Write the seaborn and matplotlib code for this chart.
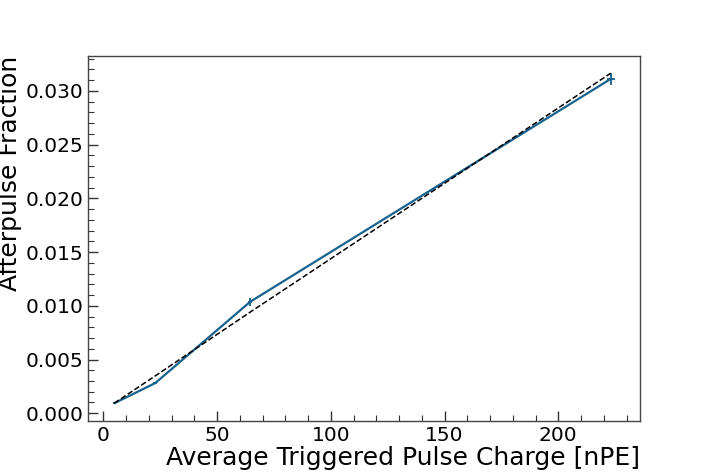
import matplotlib
matplotlib.use("Agg")
import matplotlib.pyplot as plt
import seaborn as sns
import pandas as pd
from matplotlib.ticker import MultipleLocator, FormatStrFormatter

# measured points
charge = [4.8, 22.8, 64.5, 223.0]
charge_err = [0.5, 0.8, 1.0, 1.8]
ap_frac = [0.00093, 0.0028, 0.01036, 0.0311]
ap_err = [0.0001, 0.0001, 0.0004, 0.0006]

# linear fit evaluated at the same charges
fit_frac = [0.00093, 0.00347, 0.0094, 0.03163]

df = pd.DataFrame({'charge': charge, 'ap': ap_frac, 'fit': fit_frac})

sns.set_style('ticks')
plt.rcParams['font.family'] = ['DejaVu Sans']
plt.rcParams['text.color'] = 'black'
plt.rcParams['axes.labelcolor'] = 'black'
plt.rcParams['xtick.labelcolor'] = 'black'
plt.rcParams['ytick.labelcolor'] = 'black'

fig = plt.figure(figsize=(7.12, 4.74), dpi=100)
ax = fig.add_axes([0.1236, 0.112, 0.775, 0.77])

line_color = '#17628e'
sns.lineplot(data=df, x='charge', y='ap', color=line_color, linewidth=1.6, ax=ax)
ax.errorbar(charge, ap_frac, xerr=charge_err, yerr=ap_err, fmt='none',
            ecolor=line_color, elinewidth=1.3)
sns.lineplot(data=df, x='charge', y='fit', color='black', linestyle='--',
             linewidth=1.1, ax=ax)

ax.xaxis.set_major_locator(MultipleLocator(50))
ax.xaxis.set_minor_locator(MultipleLocator(10))
ax.yaxis.set_major_locator(MultipleLocator(0.005))
ax.yaxis.set_minor_locator(MultipleLocator(0.001))
ax.yaxis.set_major_formatter(FormatStrFormatter('%.3f'))
ax.tick_params(which='major', direction='in', length=7, width=1.0,
               labelsize=14.5, color='#333333', labelcolor='black')
ax.tick_params(which='minor', direction='in', length=4, width=0.8, color='#333333')
for s in ax.spines.values():
    s.set_color('#444444')
    s.set_linewidth(1.0)

ax.set_xlabel('Average Triggered Pulse Charge [nPE]', fontsize=18, loc='right',
              labelpad=1, color='black')
ax.set_ylabel('Afterpulse Fraction', fontsize=18, loc='top', labelpad=2, color='black')

fig.savefig('out.png', dpi=100)
